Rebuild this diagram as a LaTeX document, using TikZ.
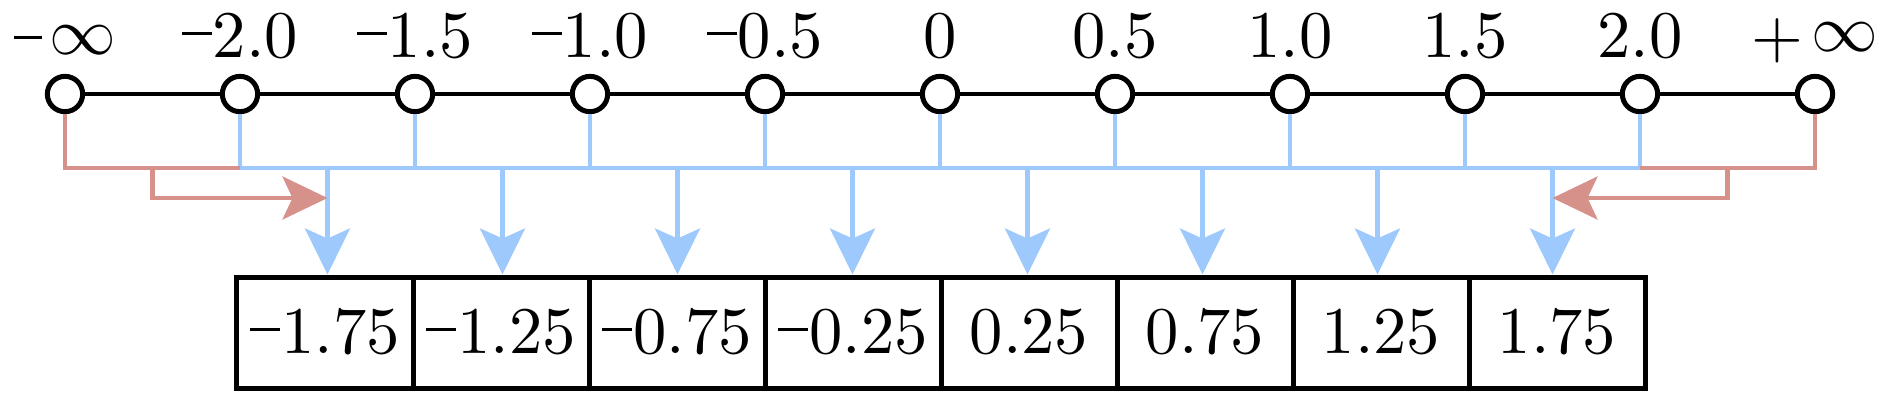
\documentclass[tikz,border=0pt]{standalone}
\usetikzlibrary{arrows.meta,calc}
\definecolor{bluec}{RGB}{158,201,252}
\definecolor{redc}{RGB}{214,145,139}
\newcommand\mns{\rule[3.45pt]{4.5pt}{0.45pt}\kern0.15pt}
\newcommand\mninf{\rule[2.85pt]{4.2pt}{0.45pt}\kern1.0pt\raisebox{0.4pt}{$\infty$}}
\newcommand\plinf{$+$\kern1.3pt\raisebox{0.9pt}{$\infty$}}
\tikzset{
  pt/.style={circle,draw=black,fill=white,line width=0.75pt,minimum size=5.3pt,inner sep=0pt},
  lab/.style={anchor=base,inner sep=0pt},
  cell/.style={draw=black,line width=0.75pt,minimum width=26.4pt,minimum height=16.65pt,inner sep=0pt,text height=6.44pt,text depth=0pt},
  axis/.style={draw=black,line width=0.62pt},
  bl/.style={draw=bluec,line width=0.62pt},
  rd/.style={draw=redc,line width=0.62pt},
  bltip/.style={-{Stealth[length=6.9pt,width=6.75pt,inset=1.5pt]}},
  rdtip/.style={-{Stealth[length=6.75pt,width=6.45pt,inset=1.5pt]}}
}
\begin{document}
\begin{tikzpicture}[x=0.15pt,y=-0.15pt]
\useasboundingbox (0,0) rectangle (1890,392);
% axis points
\foreach \i in {0,...,10} \node[pt] (c\i) at ({65+175*\i},94) {};
\foreach \i in {0,...,9}{\pgfmathtruncatemacro\j{\i+1}\draw[axis] (c\i) -- (c\j);}
% labels
\foreach \i/\t in {0/{\mninf},1/{\mns 2.0},2/{\mns 1.5},3/{\mns 1.0},4/{\mns 0.5},5/{0},6/{0.5},7/{1.0},8/{1.5},9/{2.0},10/{\plinf}}
  \node[lab] (l\i) at ({65+175*\i},57.5) {\t};
% bus
\coordinate (busL) at (240,168);
\coordinate (busR) at (1640,168);
\foreach \i in {1,...,9} \draw[bl] (c\i.south) -- (c\i.south |- busL);
\draw[bl] (busL) -- (busR);
% cells
\foreach \k/\t in {0/{\mns 1.75},1/{\mns 1.25},2/{\mns 0.75},3/{\mns 0.25},4/{0.25},5/{0.75},6/{1.25},7/{1.75}}
  \node[cell] (v\k) at ({325+176*\k},332.5) {\t};
\foreach \k in {0,...,7}{
  \coordinate (a\k) at ({327.5+175*\k},168);
  \draw[bl,bltip] (a\k) -- (a\k |- v\k.north);
}
% overflow arrows
\coordinate (mL) at (152.5,168);
\coordinate (rL) at (152.5,198);
\draw[rd] (c0.south) |- (busL);
\draw[rd,rdtip] (mL) -- (rL) -- (rL -| a0);
\coordinate (mR) at (1727.5,168);
\coordinate (rR) at (1727.5,198);
\draw[rd] (c10.south) |- (busR);
\draw[rd,rdtip] (mR) -- (rR) -- (rR -| a7);
\end{tikzpicture}
\end{document}
